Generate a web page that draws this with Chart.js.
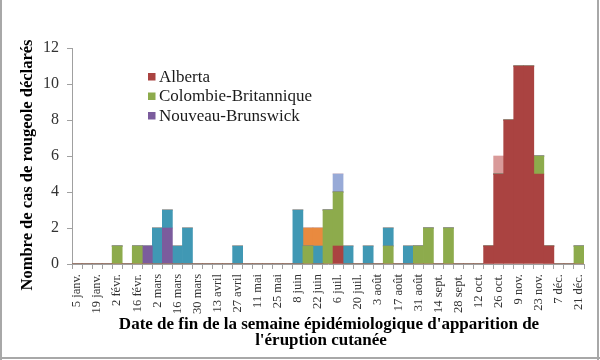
<!DOCTYPE html>
<html>
<head>
<meta charset="utf-8">
<script src="https://cdn.jsdelivr.net/npm/chart.js@4.4.1/dist/chart.umd.min.js"></script>
<style>
  html, body { margin: 0; padding: 0; background: #fff; }
  #wrap { width: 600px; height: 360px; position: relative; }
</style>
</head>
<body>
<div id="wrap"><canvas id="c" width="600" height="360"></canvas></div>
<script>
// Week-ending dates (51 weeks)
const weekLabels = [
  "5 janv.","12 janv.","19 janv.","26 janv.","2 févr.","9 févr.","16 févr.","23 févr.",
  "2 mars","9 mars","16 mars","23 mars","30 mars","6 avril","13 avril","20 avril","27 avril",
  "4 mai","11 mai","18 mai","25 mai","1 juin","8 juin","15 juin","22 juin","29 juin",
  "6 juil.","13 juil.","20 juil.","27 juil.","3 août","10 août","17 août","24 août","31 août",
  "7 sept.","14 sept.","21 sept.","28 sept.","5 oct.","12 oct.","19 oct.","26 oct.",
  "2 nov.","9 nov.","16 nov.","23 nov.","30 nov.","7 déc.","14 déc.","21 déc."
];
const alberta    = [0,0,0,0,0,0,0,0,0,0,0,0,0,0,0,0,0,0,0,0,0,0,0,0,0,0,1,0,0,0,0,0,0,0,0,0,0,0,0,0,0,1,5,8,11,11,5,1,0,0,0];
const colombieB  = [0,0,0,0,1,0,1,0,0,0,0,0,0,0,0,0,0,0,0,0,0,0,0,1,0,3,3,0,0,0,0,1,0,0,1,2,0,2,0,0,0,0,0,0,0, 0,1,0,0,0,1];
const nouveauB   = [0,0,0,0,0,0,0,1,0,2,0,0,0,0,0,0,0,0,0,0,0,0,0,0,0,0,0,0,0,0,0,0,0,0,0,0,0,0,0,0,0,0,0,0,0, 0,0,0,0,0,0];
const autreTeal  = [0,0,0,0,0,0,0,0,2,1,1,2,0,0,0,0,1,0,0,0,0,0,3,0,1,0,0,1,0,1,0,1,0,1,0,0,0,0,0,0,0,0,0,0,0, 0,0,0,0,0,0];
const autreOrange= [0,0,0,0,0,0,0,0,0,0,0,0,0,0,0,0,0,0,0,0,0,0,0,1,1,0,0,0,0,0,0,0,0,0,0,0,0,0,0,0,0,0,0,0,0, 0,0,0,0,0,0];
const autreBleu  = [0,0,0,0,0,0,0,0,0,0,0,0,0,0,0,0,0,0,0,0,0,0,0,0,0,0,1,0,0,0,0,0,0,0,0,0,0,0,0,0,0,0,0,0,0, 0,0,0,0,0,0];
const autreRose  = [0,0,0,0,0,0,0,0,0,0,0,0,0,0,0,0,0,0,0,0,0,0,0,0,0,0,0,0,0,0,0,0,0,0,0,0,0,0,0,0,0,0,1,0,0, 0,0,0,0,0,0];
const yTicks = [0, 2, 4, 6, 8, 10, 12];
const legendNames = ["Alberta", "Colombie-Britannique", "Nouveau-Brunswick"];
const xTitle = ["Date de fin de la semaine épidémiologique d'apparition de", "l'éruption cutanée"];
const yTitle = "Nombre de cas de rougeole déclarés";

const colors = {
  red: '#AA4341', green: '#8DAB4C', purple: '#7B5C9D', teal: '#4098B4',
  orange: '#E98A3F', lblue: '#98AAD7', lred: '#D99A99'
};

const SERIF = '"Liberation Serif", "DejaVu Serif", serif';

const ds = (label, data, color) => ({
  label, data, backgroundColor: color, borderWidth: 0,
  barPercentage: 1.0, categoryPercentage: 1.0
});

const overlay = {
  id: 'overlay',
  beforeDraw(chart) {
    const ctx = chart.ctx;
    ctx.save();
    ctx.fillStyle = '#fff';
    ctx.fillRect(0, 0, chart.width, chart.height);
    ctx.restore();
  },
  afterDraw(chart) {
    const ctx = chart.ctx;
    const ca = chart.chartArea;
    ctx.save();
    // frame
    ctx.fillStyle = '#a8a8a8';
    ctx.fillRect(0, 0, 2, 360);
    ctx.fillRect(597, 0, 2, 360);
    ctx.fillRect(0, 357, 600, 2);
    // legend
    const legendColors = [colors.red, colors.green, colors.purple];
    ctx.font = '17px ' + SERIF;
    ctx.textBaseline = 'middle';
    ctx.textAlign = 'left';
    legendNames.forEach((n, i) => {
      const y = 73 + i * 19.5;
      ctx.fillStyle = legendColors[i];
      ctx.fillRect(148, y, 7.5, 7.5);
      ctx.fillStyle = '#1a1a1a';
      ctx.fillText(n, 159, y + 4.5);
    });
    // x title
    ctx.font = 'bold 17px ' + SERIF;
    ctx.textAlign = 'center';
    ctx.textBaseline = 'alphabetic';
    ctx.fillStyle = '#000';
    const cx = (ca.left + ca.right) / 2;
    ctx.fillText(xTitle[0], cx + 1, 329);
    ctx.fillText(xTitle[1], cx - 7, 345);
    // y title
    ctx.font = 'bold 16.5px ' + SERIF;
    ctx.translate(32, 165);
    ctx.rotate(-Math.PI / 2);
    ctx.fillText(yTitle, 0, 0);
    ctx.restore();
  }
};

new Chart(document.getElementById('c'), {
  type: 'bar',
  data: {
    labels: weekLabels,
    datasets: [
      ds('Alberta', alberta, colors.red),
      ds('Colombie-Britannique', colombieB, colors.green),
      ds('Nouveau-Brunswick', nouveauB, colors.purple),
      ds('Autre 1', autreTeal, colors.teal),
      ds('Autre 2', autreOrange, colors.orange),
      ds('Autre 3', autreBleu, colors.lblue),
      ds('Autre 4', autreRose, colors.lred)
    ]
  },
  options: {
    responsive: false,
    animation: false,
    devicePixelRatio: 1,
    layout: { padding: { left: 0, right: 16, top: 48, bottom: 0 } },
    plugins: { legend: { display: false }, tooltip: { enabled: false }, title: { display: false } },
    scales: {
      x: {
        stacked: true,
        afterFit(scale) { scale.height = 96; },
        grid: { display: true, drawOnChartArea: false, drawTicks: true, tickLength: 5, color: '#a0a0a0', offset: true },
        border: { display: true, color: '#a0a0a0', width: 1 },
        ticks: {
          autoSkip: false, maxRotation: 90, minRotation: 90, padding: 5,
          color: '#333', font: { family: SERIF, size: 12.5 },
          callback: (v, i) => (i % 2 === 0 ? weekLabels[i] : '')
        }
      },
      y: {
        stacked: true,
        min: yTicks[0], max: yTicks[yTicks.length - 1],
        afterFit(scale) { scale.width = 72; },
        afterBuildTicks(scale) { scale.ticks = yTicks.map(v => ({ value: v })); },
        grid: { display: true, drawOnChartArea: false, drawTicks: true, tickLength: 5, color: '#a0a0a0' },
        border: { display: true, color: '#a0a0a0', width: 1 },
        ticks: { padding: 8, color: '#333', font: { family: SERIF, size: 16 } }
      }
    }
  },
  plugins: [overlay]
});
</script>
</body>
</html>
